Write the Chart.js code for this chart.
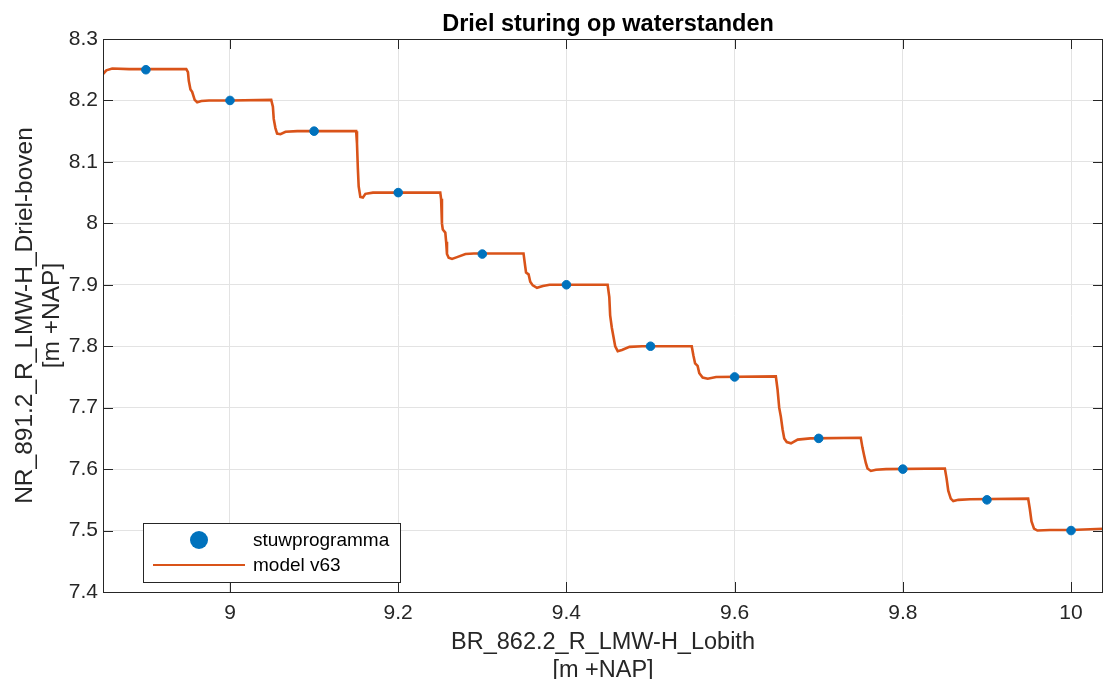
<!DOCTYPE html>
<html>
<head>
<meta charset="utf-8">
<script src="https://cdn.jsdelivr.net/npm/chart.js@4.4.0/dist/chart.umd.min.js"></script>
<style>
  html, body { margin: 0; padding: 0; background: #fff; }
  #wrap { width: 1103px; height: 679px; position: relative; }
</style>
</head>
<body>
<div id="wrap"><canvas id="chart" width="1103" height="679"></canvas></div>
<script>
// stuwprogramma (target levels)
const stuwX = [8.9, 9.0, 9.1, 9.2, 9.3, 9.4, 9.5, 9.6, 9.7, 9.8, 9.9, 10.0];
const stuwY = [8.25, 8.2, 8.15, 8.05, 7.95, 7.9, 7.8, 7.75, 7.65, 7.6, 7.55, 7.5];

// model v63
const modelX = [
  8.849, 8.853, 8.860, 8.880, 8.920, 8.948, 8.950, 8.951, 8.953, 8.955, 8.958, 8.961, 8.966, 8.975, 9.000,
  9.049, 9.051, 9.052, 9.054, 9.056, 9.060, 9.066, 9.080,
  9.150, 9.151, 9.152, 9.153, 9.155, 9.158, 9.161, 9.170,
  9.250, 9.251, 9.252, 9.253, 9.256, 9.257, 9.258, 9.260, 9.264, 9.270, 9.280, 9.290,
  9.349, 9.351, 9.352, 9.355, 9.357, 9.360, 9.365, 9.372, 9.380,
  9.449, 9.451, 9.452, 9.454, 9.456, 9.458, 9.461, 9.466, 9.475, 9.490,
  9.549, 9.551, 9.553, 9.556, 9.558, 9.562, 9.568, 9.578,
  9.649, 9.651, 9.653, 9.655, 9.657, 9.659, 9.662, 9.667, 9.675, 9.690,
  9.750, 9.752, 9.754, 9.756, 9.758, 9.762, 9.768, 9.780,
  9.850, 9.852, 9.854, 9.857, 9.860, 9.866, 9.880,
  9.949, 9.951, 9.953, 9.956, 9.960, 9.975, 10.000, 10.040
];
const modelY = [
  8.243, 8.249, 8.252, 8.251, 8.251, 8.251, 8.246, 8.232, 8.218, 8.214, 8.201, 8.197, 8.199, 8.200, 8.200,
  8.201, 8.190, 8.170, 8.155, 8.146, 8.145, 8.149, 8.150,
  8.150, 8.130, 8.090, 8.060, 8.043, 8.042, 8.048, 8.050,
  8.050, 8.040, 8.000, 7.990, 7.985, 7.970, 7.950, 7.944, 7.942, 7.945, 7.950, 7.951,
  7.951, 7.930, 7.920, 7.917, 7.905, 7.899, 7.895, 7.898, 7.900,
  7.900, 7.880, 7.850, 7.830, 7.815, 7.800, 7.792, 7.794, 7.799, 7.800,
  7.800, 7.785, 7.772, 7.768, 7.756, 7.749, 7.747, 7.750,
  7.751, 7.730, 7.700, 7.685, 7.665, 7.650, 7.644, 7.642, 7.648, 7.650,
  7.651, 7.635, 7.622, 7.610, 7.601, 7.597, 7.599, 7.600,
  7.601, 7.585, 7.565, 7.552, 7.548, 7.550, 7.551,
  7.552, 7.535, 7.515, 7.503, 7.500, 7.501, 7.501, 7.503
];

const xTicks = [9, 9.2, 9.4, 9.6, 9.8, 10];
const yTicks = [7.4, 7.5, 7.6, 7.7, 7.8, 7.9, 8, 8.1, 8.2, 8.3];

const titleText = 'Driel sturing op waterstanden';
const blue = '#0072BD';
const orange = '#D95319';
const axisColor = '#262626';
const fontFamily = "'Liberation Sans', Arial, sans-serif";

const fmt = (v) => String(Number(v.toFixed(1)));

// MATLAB-like box, inward ticks, title over the axes and legend
const matlabAxes = {
  id: 'matlabAxes',
  afterDraw(chart) {
    const { ctx, chartArea: a, scales } = chart;
    const tl = 10;
    ctx.save();
    ctx.strokeStyle = axisColor;
    ctx.lineWidth = 1;
    ctx.beginPath();
    xTicks.forEach((v) => {
      const px = Math.round(scales.x.getPixelForValue(v)) + 0.5;
      ctx.moveTo(px, a.bottom); ctx.lineTo(px, a.bottom - tl);
      ctx.moveTo(px, a.top); ctx.lineTo(px, a.top + tl);
    });
    yTicks.forEach((v) => {
      const py = Math.round(scales.y.getPixelForValue(v)) + 0.5;
      ctx.moveTo(a.left, py); ctx.lineTo(a.left + tl, py);
      ctx.moveTo(a.right, py); ctx.lineTo(a.right - tl, py);
    });
    ctx.stroke();
    ctx.strokeRect(Math.round(a.left) + 0.5, Math.round(a.top) + 0.5,
      Math.round(a.right - a.left) - 1, Math.round(a.bottom - a.top));

    // title, centred over the axes
    ctx.fillStyle = '#000';
    ctx.font = 'bold 23.5px ' + fontFamily;
    ctx.textAlign = 'center';
    ctx.textBaseline = 'middle';
    ctx.fillText(titleText, (a.left + a.right) / 2 + 5, 25);

    // legend box
    const lx = 143.5, ly = 523.5, lw = 257, lh = 59;
    ctx.fillStyle = '#fff';
    ctx.fillRect(lx, ly, lw, lh);
    ctx.strokeStyle = axisColor;
    ctx.strokeRect(lx, ly, lw, lh);
    ctx.fillStyle = blue;
    ctx.beginPath();
    ctx.arc(199, 540, 9, 0, Math.PI * 2);
    ctx.fill();
    ctx.strokeStyle = orange;
    ctx.lineWidth = 2;
    ctx.beginPath();
    ctx.moveTo(153, 565); ctx.lineTo(245, 565);
    ctx.stroke();
    ctx.fillStyle = '#000';
    ctx.font = '19px ' + fontFamily;
    ctx.textBaseline = 'middle';
    ctx.textAlign = 'left';
    ctx.fillText('stuwprogramma', 253, 541);
    ctx.fillText('model v63', 253, 566);
    ctx.restore();
  }
};

new Chart(document.getElementById('chart'), {
  type: 'scatter',
  data: {
    datasets: [
      {
        label: 'model v63',
        data: modelX.map((x, i) => ({ x, y: modelY[i] })),
        showLine: true,
        borderColor: orange,
        borderWidth: 2.6,
        pointRadius: 0,
        tension: 0,
        order: 2
      },
      {
        label: 'stuwprogramma',
        data: stuwX.map((x, i) => ({ x, y: stuwY[i] })),
        backgroundColor: blue,
        borderColor: blue,
        pointRadius: 4.3,
        pointHoverRadius: 4.3,
        order: 1
      }
    ]
  },
  options: {
    responsive: false,
    animation: false,
    devicePixelRatio: 1,
    layout: { autoPadding: false, padding: { top: 39, right: 0, bottom: 0, left: 0 } },
    plugins: {
      legend: { display: false },
      tooltip: { enabled: false },
      title: { display: false }
    },
    scales: {
      x: {
        type: 'linear',
        min: 8.849,
        max: 10.038,
        afterBuildTicks: (s) => { s.ticks = xTicks.map((v) => ({ value: v })); },
        afterFit: (s) => { s.height = 87; s.paddingLeft = 0; s.paddingRight = 0; },
        grid: { color: '#e3e3e3', drawTicks: false },
        border: { display: false },
        ticks: {
          color: axisColor,
          padding: 9,
          font: { family: fontFamily, size: 21 },
          callback: (v) => fmt(v),
          maxRotation: 0
        },
        title: {
          display: true,
          text: ['BR_862.2_R_LMW-H_Lobith', '[m +NAP]'],
          color: axisColor,
          font: { family: fontFamily, size: 23.5, lineHeight: 1.19 },
          padding: { top: 0, bottom: -5 }
        }
      },
      y: {
        type: 'linear',
        min: 7.4,
        max: 8.3,
        afterBuildTicks: (s) => { s.ticks = yTicks.map((v) => ({ value: v })); },
        afterFit: (s) => { s.width = 103; s.paddingTop = 0; s.paddingBottom = 0; },
        grid: { color: '#e3e3e3', drawTicks: false },
        border: { display: false },
        ticks: {
          color: axisColor,
          padding: 5,
          font: { family: fontFamily, size: 21 },
          callback: (v) => fmt(v)
        },
        title: {
          display: true,
          text: ['NR_891.2_R_LMW-H_Driel-boven', '[m +NAP]'],
          color: axisColor,
          font: { family: fontFamily, size: 24.5, lineHeight: 1.1 },
          padding: { top: 12, bottom: 0 }
        }
      }
    }
  },
  plugins: [matlabAxes]
});
</script>
</body>
</html>
